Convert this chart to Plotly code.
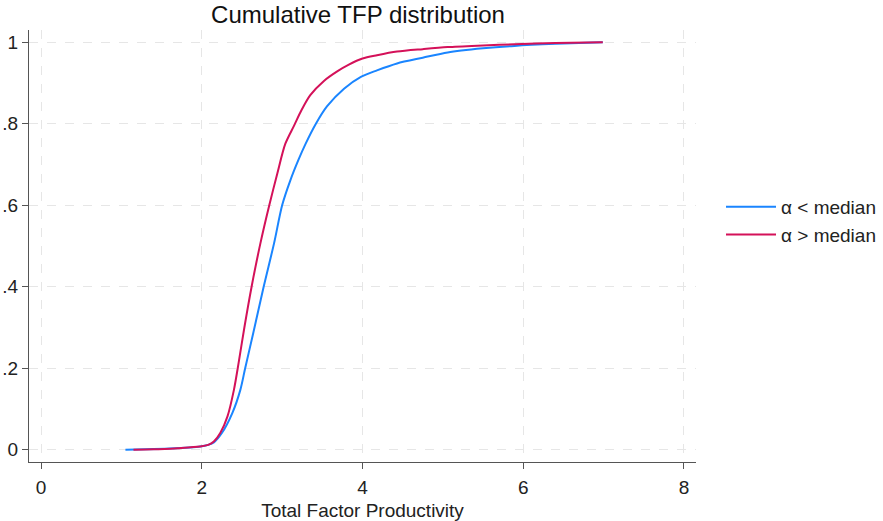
import plotly.graph_objects as go

# Data
blue_name = "α < median"
blue_x = [1.05, 1.3, 1.6, 1.98, 2.08, 2.15, 2.25, 2.38, 2.48, 2.54, 2.64, 2.77, 2.90, 3.0, 3.1, 3.2,
          3.29, 3.42, 3.56, 3.77, 3.98, 4.18, 4.43, 4.75, 5.06, 5.5, 5.89, 6.4, 6.99]
blue_y = [0, 0.001, 0.003, 0.008, 0.012, 0.018, 0.041, 0.09, 0.147, 0.2, 0.286, 0.40, 0.507, 0.6, 0.66,
          0.71, 0.75, 0.80, 0.843, 0.886, 0.915, 0.931, 0.948, 0.962, 0.975, 0.985, 0.991, 0.996, 1.0]

red_name = "α > median"
red_x = [1.15, 1.4, 1.7, 1.98, 2.08, 2.15, 2.23, 2.32, 2.40, 2.46, 2.53, 2.62, 2.73, 2.84, 2.94, 3.04,
         3.15, 3.24, 3.35, 3.52, 3.69, 3.83, 4.0, 4.18, 4.43, 4.75, 5.06, 5.5, 5.89, 6.4, 6.99]
red_y = [0, 0.001, 0.004, 0.008, 0.012, 0.02, 0.041, 0.082, 0.147, 0.215, 0.3, 0.4, 0.507, 0.6, 0.678,
         0.751, 0.796, 0.833, 0.870, 0.905, 0.929, 0.945, 0.960, 0.968, 0.977, 0.983, 0.988, 0.992, 0.995,
         0.998, 1.0]

x_ticks = [0, 2, 4, 6, 8]
y_ticks = [0, 0.2, 0.4, 0.6, 0.8, 1]
y_ticktext = ["0", ".2", ".4", ".6", ".8", "1"]

title = "Cumulative TFP distribution"
x_title = "Total Factor Productivity"

fig = go.Figure()
fig.add_trace(go.Scatter(x=blue_x, y=blue_y, mode="lines", name=blue_name, legendgroup="a",
                         line=dict(color="#1a85ff", width=2, shape="spline", smoothing=0.8)))
fig.add_trace(go.Scatter(x=red_x, y=red_y, mode="lines", name=red_name, legendgroup="b",
                         line=dict(color="#d41159", width=2, shape="spline", smoothing=0.8)))

font = "Liberation Sans, Arial, sans-serif"
pw = 883 - 29 - 187
ph = 521 - 30 - 59
fig.update_layout(
    width=883, height=521,
    margin=dict(l=29, r=187, t=30, b=59, autoexpand=False),
    paper_bgcolor="white", plot_bgcolor="white",
    font=dict(family=font, size=19, color="#222222"),
    title=dict(text=title, x=358 / 883, xanchor="center", y=1 - 15 / 521, yanchor="middle",
               font=dict(size=24, color="#111111")),
    showlegend=True,
    legend=dict(x=(721 - 29) / pw, y=(462 - 188) / ph, xanchor="left", yanchor="top", font=dict(size=19),
                bgcolor="rgba(0,0,0,0)", tracegroupgap=0, itemwidth=50),
    xaxis=dict(range=[-0.15, 8.15], tickvals=x_ticks, ticks="outside", ticklen=6, tickcolor="#555555",
               showline=True, linecolor="#555555", linewidth=1, zeroline=False, automargin=False,
               showgrid=True, gridcolor="#e6e6e6", griddash="dash", gridwidth=1,
               title=dict(text=x_title, font=dict(size=19), standoff=7),
               tickfont=dict(size=19), ticklabelstandoff=2),
    yaxis=dict(range=[-0.03, 1.03], tickvals=y_ticks, ticktext=y_ticktext, ticks="outside", ticklen=6,
               tickcolor="#555555", showline=True, linecolor="#555555", linewidth=1, zeroline=False,
               automargin=False,
               showgrid=True, gridcolor="#e6e6e6", griddash="dash", gridwidth=1,
               tickfont=dict(size=19), ticklabelstandoff=0),
)

fig.write_html("out.html")
